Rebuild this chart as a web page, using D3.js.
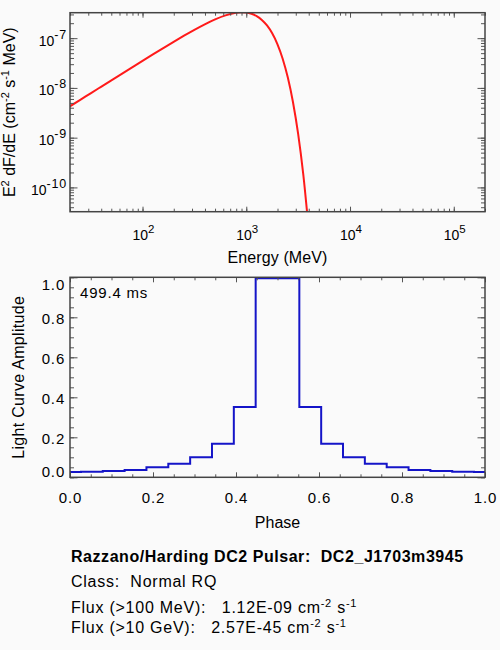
<!DOCTYPE html>
<html>
<head>
<meta charset="utf-8">
<script src="https://cdn.jsdelivr.net/npm/d3@7"></script>
<style>
  body { margin: 0; background: #fafafa; }
  text { font-family: "Liberation Sans", Arial, sans-serif; fill: #000; white-space: pre; }
</style>
</head>
<body>
<svg width="500" height="650"></svg>
<script>
// spectrum, E^2 dF/dE
const energy = [19.95, 25.12, 31.62, 39.81, 50.12, 63.1, 79.43, 100, 125.9, 158.5, 199.5, 251.2,
  316.2, 398.1, 501.2, 631.0, 794.3, 891.3, 1000, 1122, 1259, 1413, 1585, 1778, 1995, 2239,
  2512, 2818, 3162, 3548, 3981];
const sed = [4.27e-9, 5.77e-9, 7.80e-9, 1.054e-8, 1.424e-8, 1.923e-8, 2.595e-8, 3.50e-8, 4.71e-8,
  6.32e-8, 8.45e-8, 1.121e-7, 1.472e-7, 1.901e-7, 2.388e-7, 2.873e-7, 3.232e-7, 3.30e-7, 3.263e-7,
  3.09e-7, 2.777e-7, 2.33e-7, 1.803e-7, 1.253e-7, 7.62e-8, 3.91e-8, 1.631e-8, 5.21e-9, 1.187e-9,
  1.78e-10, 1.57e-11];

// light curve, 19 bins per period (bin centres)
const phase = [0, 0.0526, 0.1053, 0.1579, 0.2105, 0.2632, 0.3158, 0.3684, 0.4211, 0.4737, 0.5263,
  0.5789, 0.6316, 0.6842, 0.7368, 0.7895, 0.8421, 0.8947, 0.9474, 1.0];
const amplitude = [0.027, 0.028, 0.032, 0.037, 0.05, 0.068, 0.10, 0.168, 0.352, 0.995, 0.995, 0.352,
  0.168, 0.10, 0.068, 0.05, 0.037, 0.032, 0.028, 0.026];

const energyTicks = [1e2, 1e3, 1e4, 1e5];
const sedTicks = [1e-10, 1e-9, 1e-8, 1e-7];
const phaseTicks = [0, 0.2, 0.4, 0.6, 0.8, 1.0];
const ampTicks = [0, 0.2, 0.4, 0.6, 0.8, 1.0];

const period = "499.4 ms";
const infoLines = [
  { bold: true, parts: [["Razzano/Harding DC2 Pulsar:  DC2_J1703m3945"]] },
  { parts: [["Class:  Normal RQ"]] },
  { parts: [["Flux (>100 MeV):   1.12E-09 cm"], ["-2", 1], [" s"], ["-1", 1]] },
  { parts: [["Flux (>10 GeV):   2.57E-45 cm"], ["-2", 1], [" s"], ["-1", 1]] }
];

const svg = d3.select("svg");
svg.append("rect").attr("width", 500).attr("height", 650).attr("fill", "#fafafa");

const L = 70, R = 485;
const top1 = 12.7, bot1 = 211.7;
const top2 = 277.3, bot2 = 477.3;

// write text with superscript pieces
function richText(sel, parts, supSize) {
  parts.forEach(([s, sup]) => {
    sel.append("tspan")
      .attr("font-size", sup ? supSize : null)
      .attr("baseline-shift", sup ? "55%" : null)
      .text(s);
  });
  return sel;
}

function frame(g, x, y, xMinor, yMinor, xMajor, yMajor) {
  const t = y.range()[1], b = y.range()[0];
  const tick = (axis, len, vals, tr) => {
    g.append("g").attr("transform", tr)
      .call(axis.tickValues(vals).tickSize(-len).tickFormat(""))
      .call((a) => a.select(".domain").remove())
      .call((a) => a.selectAll("line").attr("stroke", "#555").attr("stroke-width", 1));
  };
  tick(d3.axisBottom(x), 3, xMinor, `translate(0,${b})`);
  tick(d3.axisBottom(x), 5, xMajor, `translate(0,${b})`);
  tick(d3.axisTop(x), 3, xMinor, `translate(0,${t})`);
  tick(d3.axisTop(x), 5, xMajor, `translate(0,${t})`);
  tick(d3.axisLeft(y), 4, yMinor, `translate(${L},0)`);
  tick(d3.axisLeft(y), 7.5, yMajor, `translate(${L},0)`);
  tick(d3.axisRight(y), 4, yMinor, `translate(${R},0)`);
  tick(d3.axisRight(y), 7.5, yMajor, `translate(${R},0)`);
  g.append("rect")
    .attr("x", L).attr("y", t).attr("width", R - L).attr("height", b - t)
    .attr("fill", "none").attr("stroke", "#444").attr("stroke-width", 1.5);
}

// ---- upper panel: spectrum
const x1 = d3.scaleLog().domain([20, 2e5]).range([L, R]);
const y1 = d3.scaleLog().domain([3.25e-11, 3.25e-7]).range([bot1, top1]);

const g1 = svg.append("g");
svg.append("clipPath").attr("id", "clip1")
  .append("rect").attr("x", L).attr("y", top1).attr("width", R - L).attr("height", bot1 - top1);

g1.append("path")
  .datum(energy.map((e, i) => [e, sed[i]]))
  .attr("clip-path", "url(#clip1)")
  .attr("fill", "none")
  .attr("stroke", "#ff1a1a")
  .attr("stroke-width", 2)
  .attr("d", d3.line().x((d) => x1(d[0])).y((d) => y1(d[1])).curve(d3.curveMonotoneX));

frame(g1, x1, y1, x1.ticks(), y1.ticks(), energyTicks, sedTicks);

const expo = (d) => [["10"], [String(Math.round(Math.log10(d))), 1]];

g1.selectAll(".xl").data(energyTicks).join("text")
  .attr("x", (d) => x1(d) + 1).attr("y", 240)
  .attr("text-anchor", "middle").attr("font-size", 14)
  .each(function (d) { richText(d3.select(this), expo(d), 11.5); });

g1.selectAll(".yl").data(sedTicks).join("text")
  .attr("x", 67).attr("y", (d) => y1(d) + 7.5)
  .attr("text-anchor", "end").attr("font-size", 14)
  .each(function (d) {
    richText(d3.select(this), expo(d), 12.5);
    d3.select(this).select("tspan:last-child").attr("letter-spacing", 0.8);
  });

g1.append("text").attr("x", (L + R) / 2).attr("y", 263)
  .attr("text-anchor", "middle").attr("font-size", 16).attr("letter-spacing", 0.1)
  .text("Energy (MeV)");

richText(
  g1.append("text").attr("transform", `translate(15,${(top1 + bot1) / 2}) rotate(-90)`)
    .attr("text-anchor", "middle").attr("font-size", 16),
  [["E"], ["2", 1], [" dF/dE (cm"], ["-2", 1], [" s"], ["-1", 1], [" MeV)"]], 11);

// ---- lower panel: light curve
const x2 = d3.scaleLinear().domain([0, 1]).range([L, R]);
const y2 = d3.scaleLinear().domain([0, 1]).range([bot2, top2]);

const g2 = svg.append("g");
svg.append("clipPath").attr("id", "clip2")
  .append("rect").attr("x", L).attr("y", top2).attr("width", R - L).attr("height", bot2 - top2);

g2.append("path")
  .datum(phase.map((p, i) => [p, amplitude[i]]))
  .attr("clip-path", "url(#clip2)")
  .attr("fill", "none")
  .attr("stroke", "#1414c8")
  .attr("stroke-width", 2)
  .attr("d", d3.line().x((d) => x2(d[0])).y((d) => y2(d[1])).curve(d3.curveStep));

frame(g2, x2, y2, d3.range(0, 1.001, 0.05), d3.range(0, 1.001, 0.05), phaseTicks, ampTicks);

g2.selectAll(".xl").data(phaseTicks).join("text")
  .attr("x", (d) => x2(d) + 0.5).attr("y", 503.3)
  .attr("text-anchor", "middle").attr("font-size", 15).attr("letter-spacing", 0.9)
  .text((d) => d.toFixed(1));

g2.selectAll(".yl").data(ampTicks).join("text")
  .attr("x", 65.2)
  .attr("y", (d) => y2(d) + (d === 0 ? -0.6 : d === 1 ? 12.7 : 7))
  .attr("text-anchor", "end").attr("font-size", 15).attr("letter-spacing", 0.9)
  .text((d) => d.toFixed(1));

g2.append("text").attr("x", (L + R) / 2).attr("y", 528)
  .attr("text-anchor", "middle").attr("font-size", 16).text("Phase");

g2.append("text").attr("transform", `translate(24,${(top2 + bot2) / 2}) rotate(-90)`)
  .attr("text-anchor", "middle").attr("font-size", 16).attr("letter-spacing", 0.3)
  .text("Light Curve Amplitude");

g2.append("text").attr("x", 80).attr("y", 298).attr("font-size", 15).attr("letter-spacing", 0.8)
  .text(period);

// ---- info block
const infoY = [562.3, 587.3, 612.7, 632.7];
infoLines.forEach((ln, i) => {
  richText(
    svg.append("text").attr("x", 71).attr("y", infoY[i]).attr("font-size", 16)
      .attr("font-weight", ln.bold ? "bold" : null)
      .attr("letter-spacing", ln.bold ? 0.55 : 0.75),
    ln.parts, 11);
});
</script>
</body>
</html>
